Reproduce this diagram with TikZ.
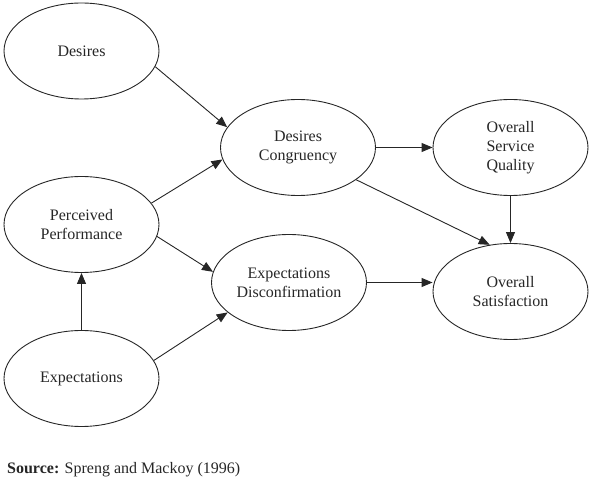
\documentclass[tikz,border=0pt]{standalone}
\usepackage{fontspec}
\setmainfont{Liberation Serif}
\usetikzlibrary{shapes.geometric,arrows.meta}
\begin{document}
\begin{tikzpicture}[x=1pt,y=-1pt,
  ell/.style={ellipse,draw=black!85,line width=0.9pt,inner sep=0pt,
    minimum width=155pt,minimum height=96pt,align=center,
    font=\fontsize{16}{19}\selectfont,text=black!85},
  conn/.style={draw=black!85,line width=0.9pt,
    -{Triangle[length=11pt,width=9pt]}}]
\useasboundingbox (0,0) rectangle (590,478);
\node[ell] (des) at (81.5,51) {Desires};
\node[ell] (dc) at (298,147.5) {Desires\\Congruency};
\node[ell] (osq) at (510.5,147.5) {Overall\\Service\\Quality};
\node[ell] (pp) at (81.5,224.5) {Perceived\\Performance};
\node[ell] (ed) at (289,282.5) {Expectations\\Disconfirmation};
\node[ell] (os) at (510.5,291.5) {Overall\\Satisfaction};
\node[ell] (exp) at (81.5,378.5) {Expectations};
\node[anchor=base west,inner sep=0pt,font=\fontsize{16}{19}\selectfont,text=black!85]
  (src) at (7,474) {\textbf{Source:} Spreng and Mackoy (1996)};
\draw[conn] (des.-12.4) -- (dc.164.3);
\draw[conn] (pp.17.8) -- (dc.-171.8);
\draw[conn] (pp.-9.3) -- (ed.172.9);
\draw[conn] (exp.14.2) -- (ed.-154.6);
\draw[conn] (exp.north) -- (pp.south);
\draw[conn] (dc.east) -- (osq.west);
\draw[conn] (osq.south) -- (os.north);
\draw[conn] (dc.-29.2) -- (os.114.7);
\draw[conn] (ed.east) -- (ed.east -| os.west);
\end{tikzpicture}
\end{document}
